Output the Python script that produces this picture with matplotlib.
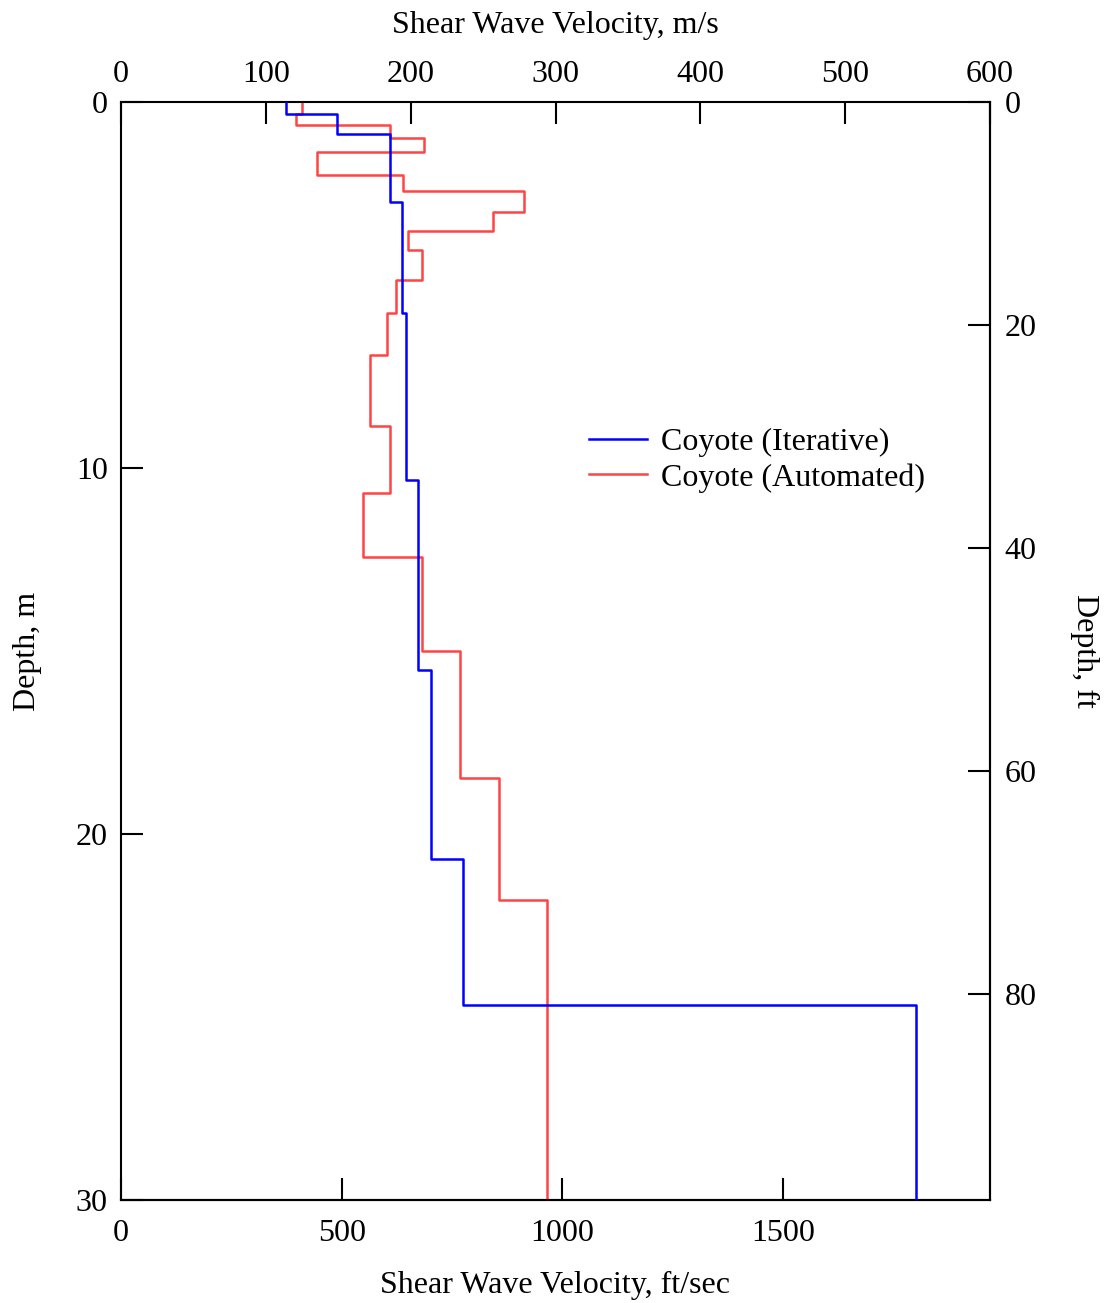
import numpy as np
import matplotlib
matplotlib.use("Agg")
import matplotlib.pyplot as plt

plt.rcParams['font.family'] = ['Liberation Serif', 'DejaVu Serif']
plt.rcParams['mathtext.fontset'] = 'stix'

# Layer bottoms (m) and shear-wave velocities (m/s)
iter_bottom_m = [0.34, 0.88, 2.72, 5.77, 10.33, 15.52, 20.69, 24.66, 30.0]
iter_vs = [114, 149, 186, 194, 197, 205, 214, 236, 549]

auto_bottom_m = [0.34, 0.63, 0.98, 1.36, 2.0, 2.43, 3.0, 3.52, 4.05, 4.86,
                 5.77, 6.91, 8.84, 10.67, 12.42, 14.99, 18.46, 21.8, 30.0]
auto_vs = [125, 121, 186, 209, 135, 195, 278, 257, 198, 208,
           190, 184, 172, 186, 167, 208, 234, 261, 294]

top_ticks = [0, 100, 200, 300, 400, 500, 600]
bottom_ticks = [0, 500, 1000, 1500]
left_ticks = [0, 10, 20, 30]
right_ticks = [0, 20, 40, 60, 80]

M2FT = 3.28084


def step_profile(bottoms, vs):
    xs, ys = [], []
    top = 0.0
    for b, v in zip(bottoms, vs):
        xs += [v, v]
        ys += [top, b]
        top = b
    return xs, ys


fig = plt.figure(figsize=(11.10, 13.03), dpi=100)
ax = fig.add_axes([121/1110, 1 - 1200/1303, 869/1110, 1098/1303])

x1, y1 = step_profile(iter_bottom_m, iter_vs)
x2, y2 = step_profile(auto_bottom_m, auto_vs)
ax.plot(x1, y1, color='#0000ff', lw=1.8, label='Coyote (Iterative)', zorder=3)
ax.plot(x2, y2, color='#ff4444', lw=1.8, label='Coyote (Automated)', zorder=2)

ax.set_xlim(0, 600)
ax.set_ylim(30, 0)

FS = 23
ax.xaxis.tick_top()
ax.xaxis.set_label_position('top')
ax.set_xticks(top_ticks)
ax.set_yticks(left_ticks)
ax.tick_params(axis='x', direction='in', length=16, width=1.5, labelsize=FS, pad=9)
ax.tick_params(axis='y', direction='in', length=16, width=1.5, labelsize=FS, pad=9.5, right=False)
ax.set_xlabel('Shear Wave Velocity, m/s', fontsize=FS, labelpad=20)
ax.set_ylabel('Depth, m', fontsize=FS, labelpad=24)
for s in ax.spines.values():
    s.set_linewidth(1.5)

secx = ax.secondary_xaxis('bottom', functions=(lambda v: v * M2FT, lambda v: v / M2FT))
secx.set_xticks(bottom_ticks)
secx.tick_params(direction='in', length=16, width=1.5, labelsize=FS, pad=14)
secx.set_xlabel('Shear Wave Velocity, ft/sec', fontsize=FS, labelpad=16)

secy = ax.secondary_yaxis('right', functions=(lambda d: d * M2FT, lambda d: d / M2FT))
secy.set_yticks(right_ticks)
secy.tick_params(direction='in', length=16, width=1.5, labelsize=FS, pad=10.5)
secy.set_ylabel('Depth, ft', fontsize=FS, rotation=270, labelpad=45)
for s in list(secx.spines.values()) + list(secy.spines.values()):
    s.set_linewidth(1.5)

ax.legend(loc='center left', bbox_to_anchor=((589 - 121) / 869, 1 - (460 - 102) / 1098),
          frameon=False, fontsize=FS, handlelength=1.8, handletextpad=0.45,
          borderpad=0, borderaxespad=0, labelspacing=0.2)

fig.savefig('out.png', dpi=100)
